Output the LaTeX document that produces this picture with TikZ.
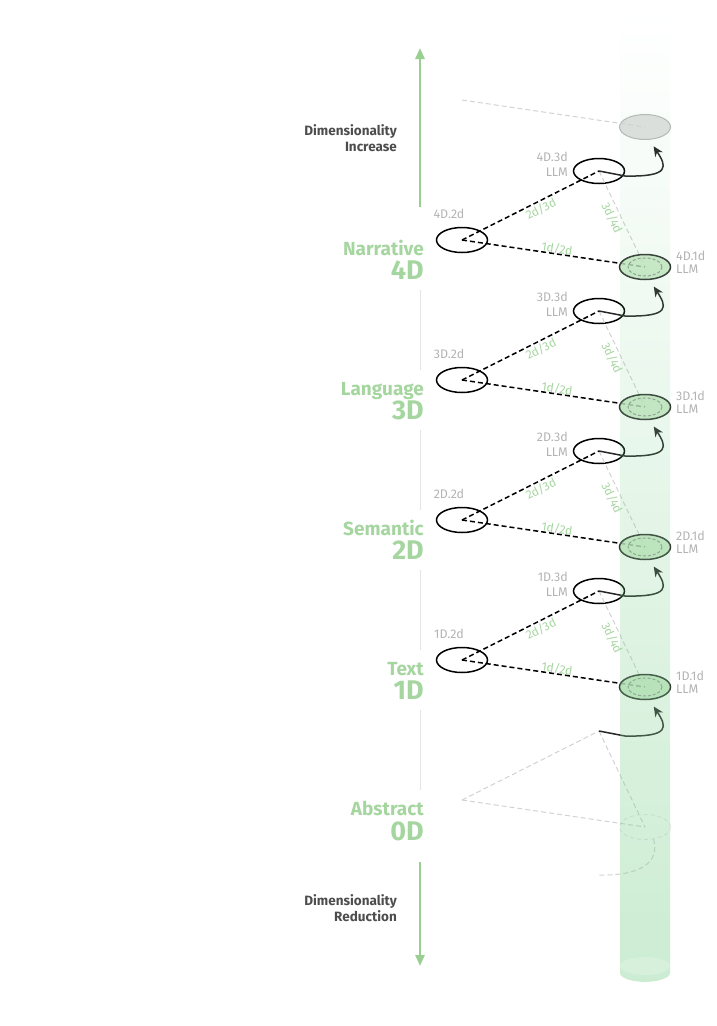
\documentclass[tikz,border=0pt]{standalone}
\usepackage{fontspec}
\setmainfont{Fira Sans}
\usetikzlibrary{shapes.geometric,arrows.meta,fadings}
\definecolor{leafgreen}{HTML}{A6D6A0}
\definecolor{coreGreen}{HTML}{C2E6BE}
\definecolor{axisgreen}{HTML}{9ACF92}
\definecolor{tagGray}{HTML}{B3B3B3}
\definecolor{inkGray}{HTML}{4D4D4D}
\definecolor{cylGreen}{HTML}{7FD08F}
\definecolor{faintGray}{HTML}{D2D2D2}
\tikzfading[name=cylfade, top color=transparent!100, middle color=transparent!30, bottom color=transparent!0]

\begin{document}
\begin{tikzpicture}[x=1pt, y=-1pt,
    ring/.style={draw,ellipse,line width=1.5pt,minimum width=51pt,minimum height=25pt,inner sep=0pt},
    core/.style={ring,draw=black!80,fill=coreGreen,fill opacity=0.8},
    ghost/.style={ring,draw=black!28,line width=1pt,fill=black!12},
    inner/.style={black!40,line width=1pt,dash pattern=on 3pt off 2pt},
    link/.style={line width=1.5pt,dash pattern=on 5pt off 3pt},
    hint/.style={faintGray,line width=1pt,dash pattern=on 5pt off 3pt},
    flow/.style={line width=1.5pt,draw=black!85,-{Stealth[length=10pt,width=9pt]}},
    tag/.style={text=tagGray,font=\fontsize{12.5}{15}\selectfont,align=right,inner sep=0pt},
    ratio/.style={text=leafgreen,font=\fontsize{12}{14}\selectfont,inner sep=0pt},
    dimname/.style={text=leafgreen,font=\bfseries\fontsize{19}{21}\selectfont,anchor=base east,inner sep=0pt},
    dimnum/.style={text=leafgreen,font=\bfseries\fontsize{27}{29}\selectfont,anchor=base east,inner sep=0pt},
    axis/.style={axisgreen,line width=2.5pt,-{Triangle[length=11pt,width=9pt]}},
    rail/.style={black!10,line width=1pt},
    side/.style={text=inkGray,font=\bfseries\fontsize{13.5}{16}\selectfont,align=right,anchor=east,inner sep=0pt}
]
\useasboundingbox (0,0) rectangle (717,1026);

% left axis
\coordinate (axis-top) at (420,48);
\coordinate (axis-hi) at (420,207);
\coordinate (axis-lo) at (420,862);
\coordinate (axis-bottom) at (420,966);
\draw[axis] (axis-hi) -- (axis-top);
\draw[axis] (axis-lo) -- (axis-bottom);
\node[side] (incr) at (397,138) {Dimensionality\\Increase};
\node[side] (redu) at (397,908) {Dimensionality\\Reduction};

% ghost level on top
\node[ghost] (l5-1d) at (645,127) {};
\coordinate (l5-2d) at (462,100);
\draw[hint] (l5-2d) -- (l5-1d.center);

% the four levels
\foreach \k/\dimlabel in {4/Narrative,3/Language,2/Semantic,1/Text}{
  \pgfmathsetmacro{\yb}{800-140*\k}
  \node[ring] (l\k-2d) at (462,\yb) {};
  \node[ring] (l\k-3d) at (599,\yb-69) {};
  \coordinate (c\k-1d) at (645,\yb+27);
  \draw[hint] (l\k-3d.center) -- (c\k-1d);
  \draw[link] (l\k-2d.center) -- (l\k-3d.center);
  \draw[link] (l\k-2d.center) -- (c\k-1d);
  \node[core] (l\k-1d) at (c\k-1d) {};
  \draw[inner] (l\k-1d.center) ellipse [x radius=17, y radius=9];
  % ratios
  \node[ratio,rotate=26.7] (r\k-a) at (541,\yb-31) {2d/3d};
  \node[ratio,rotate=-8.4] (r\k-b) at (557,\yb+9) {1d/2d};
  \node[ratio,rotate=-64.4] (r\k-c) at (612,\yb-22) {3d/4d};
  % tags
  \node[tag] (t\k-2d) at (449,\yb-26) {\k D.2d};
  \node[tag,anchor=east] (t\k-3d) at (568,\yb-76) {\k D.3d\\LLM};
  \node[tag,anchor=west,align=left,font=\fontsize{12.5}{13}\selectfont] (t\k-1d) at (676,\yb+22) {\k D.1d\\LLM};
  % axis labels
  \node[dimname] (n\k-name) at (424,\yb+15) {\dimlabel};
  \node[dimnum] (n\k-num) at (424,\yb+39) {\k D};
  \draw[rail] (420,\yb+50) -- (420,\yb+130);
}

% ghost level at the bottom
\coordinate (l0-2d) at (462,800);
\coordinate (l0-3d) at (599,731);
\node[ring,draw=black!9,line width=1pt,dash pattern=on 4pt off 3pt] (l0-1d) at (645,827) {};
\draw[hint] (l0-2d) -- (l0-3d);
\draw[hint] (l0-2d) -- (l0-1d.center);
\draw[hint] (l0-3d) -- (l0-1d.center);
\coordinate (l0-tail) at (598,875);
\draw[hint] (l0-1d.-55) .. controls +(6,22) and +(45,1) .. (l0-tail);
\node[dimname] (n0-name) at (424,815) {Abstract};
\node[dimnum] (n0-num) at (424,840) {0D};

% lifts between levels
\foreach \k in {0,...,4}{
  \pgfmathtruncatemacro{\up}{\k+1}
  \draw[flow] (l\k-3d.center) -- ++(26,5) .. controls +(46,1) and +(13,20) .. ([yshift=-7pt]l\up-1d.-55);
}

% column
\fill[cylGreen,fill opacity=0.4,path fading=cylfade] (620,18) -- (620,972)
  arc[start angle=180,end angle=0,x radius=25,y radius=9] -- (670,18)
  arc[start angle=0,end angle=-180,x radius=25,y radius=6] -- cycle;
\fill[white,fill opacity=0.2] (645,966) ellipse [x radius=25, y radius=9];
\end{tikzpicture}
\end{document}
